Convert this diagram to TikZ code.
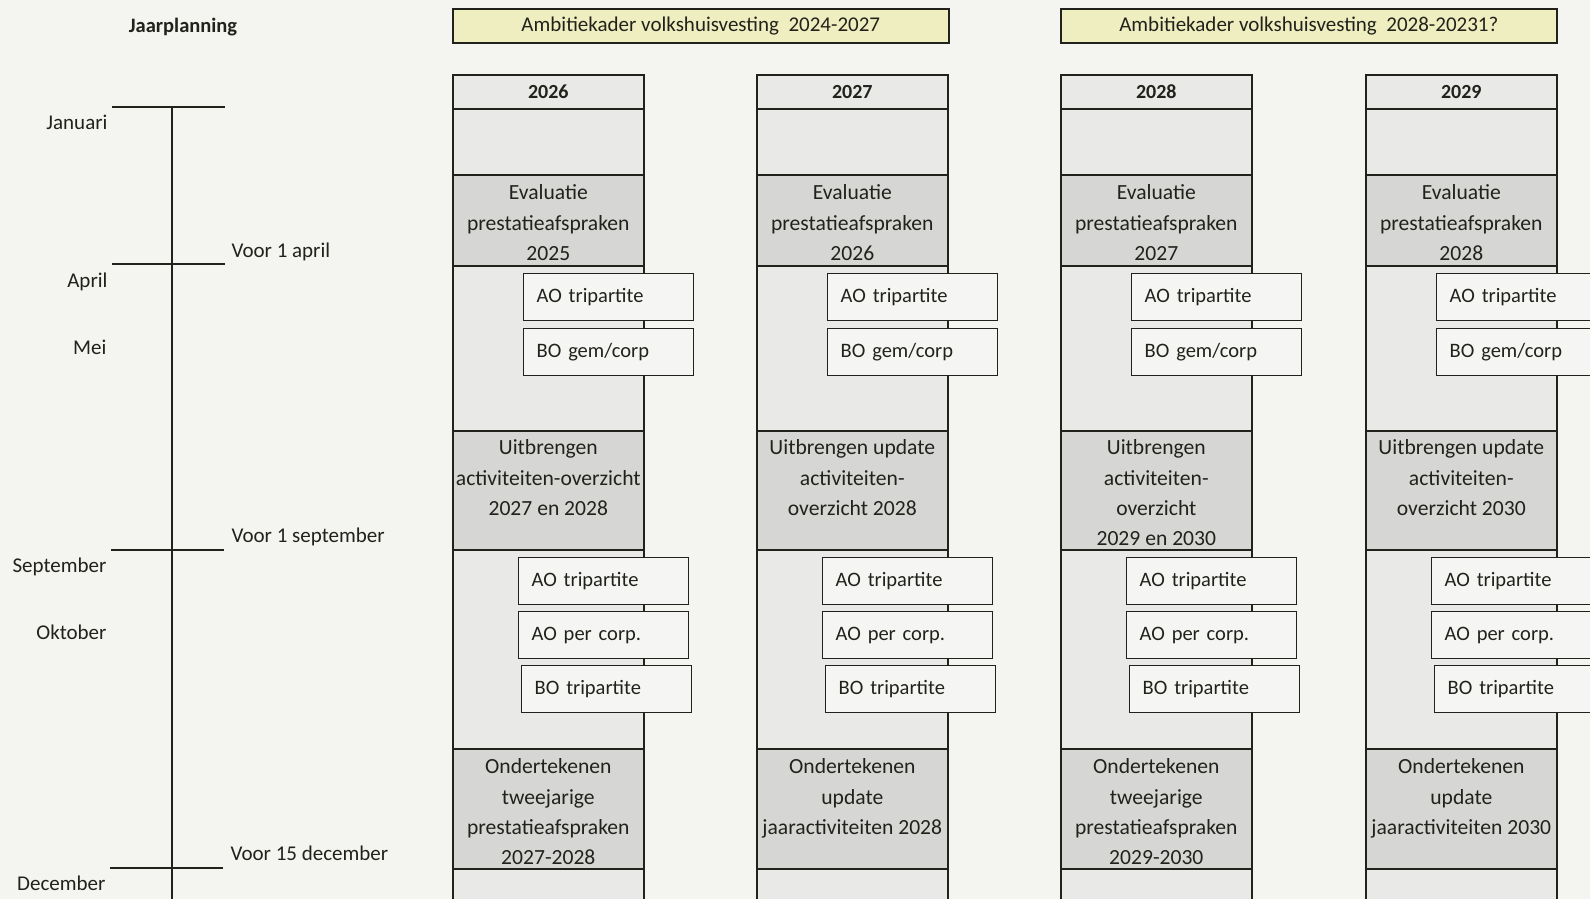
\documentclass[tikz,border=0pt]{standalone}
\usepackage{fontspec}
\setmainfont{Carlito}
\definecolor{papier}{RGB}{244,244,241}
\definecolor{licht}{RGB}{233,233,231}
\definecolor{donker}{RGB}{214,214,212}
\definecolor{wit}{RGB}{245,245,243}
\definecolor{geel}{RGB}{238,238,192}
\definecolor{inkt}{RGB}{34,34,28}
\begin{document}
\begin{tikzpicture}[x=1pt,y=-1pt,
    every node/.style={font=\fontsize{21}{30.4}\selectfont,text=inkt},
    lijn/.style={line width=1.5pt,draw=inkt},
    cel/.style={draw=inkt,line width=1.6pt,anchor=north west,minimum width=191pt,inner sep=0pt},
    lichtcel/.style={cel,fill=licht},
    donkercel/.style={cel,fill=donker},
    celtekst/.style={anchor=north,align=center,inner sep=0pt,font=\fontsize{21.6}{30.4}\selectfont},
    klein/.style={draw=inkt,line width=1.4pt,fill=wit,anchor=north west,minimum width=170pt,
      minimum height=47pt,text width=144pt,inner xsep=13pt,align=left,font=\fontsize{20.5}{24}\selectfont},
    kader/.style={draw=inkt,line width=1.6pt,fill=geel,anchor=north west,minimum width=496pt,
      minimum height=34pt,inner sep=0pt},
    maand/.style={anchor=base east},
    datum/.style={anchor=base west}]
  \useasboundingbox (0,0) rectangle (1590,899);
  \clip (0,0) rectangle (1590,899);
  \fill[papier] (0,0) rectangle (1590,899);

  \node[font=\fontsize{20.5}{24}\selectfont\bfseries] (titel) at (183,27) {Jaarplanning};

  \draw[lijn] (172,107) -- (172,905);
  \foreach \y/\a/\b in {107/112/225,264/112/225,550/111/224,868/110/223}
    \draw[lijn] (\a,\y) -- (\b,\y);
  \node[maand] (jan) at (111,129) {Januari};
  \node[maand] (apr) at (111,287) {April};
  \node[maand] (mei) at (110,354) {Mei};
  \node[maand] (sep) at (110,572) {September};
  \node[maand] (okt) at (110,639) {Oktober};
  \node[maand] (dec) at (109,890) {December};
  \node[datum] (v1apr) at (228,257) {Voor 1 april};
  \node[datum] (v1sep) at (228,542) {Voor 1 september};
  \node[datum] (v15dec) at (227,860) {Voor 15 december};

  \node[kader] (kader1) at (452,8) {Ambitiekader volkshuisvesting\ \ 2024-2027};
  \node[kader] (kader2) at (1060,8) {Ambitiekader volkshuisvesting\ \ 2028-20231?};

  \foreach \x/\jaar/\ev/\uit/\ond [count=\i] in
    {452/2026/2025/{Uitbrengen\\activiteiten-overzicht\\2027 en 2028}/{Ondertekenen\\tweejarige\\prestatieafspraken\\2027-2028},
     756/2027/2026/{Uitbrengen update\\activiteiten-\\overzicht 2028}/{Ondertekenen\\update\\jaaractiviteiten 2028},
     1060/2028/2027/{Uitbrengen\\activiteiten-\\overzicht\\2029 en 2030}/{Ondertekenen\\tweejarige\\prestatieafspraken\\2029-2030},
     1365/2029/2028/{Uitbrengen update\\activiteiten-\\overzicht 2030}/{Ondertekenen\\update\\jaaractiviteiten 2030}}
  {
    \node[lichtcel,minimum height=840pt] (kol\i) at (\x,74) {};
    \node[lichtcel,minimum height=34pt,font=\fontsize{20}{24}\selectfont\bfseries] (jaar\i) at (\x,74) {\jaar};
    \node[donkercel,minimum height=91pt] (eval\i) at (\x,174) {};
    \node[celtekst] at ([yshift=-10.5pt]eval\i.north) {Evaluatie\\prestatieafspraken\\\ev};
    \node[donkercel,minimum height=119pt] (uit\i) at (\x,430) {};
    \node[celtekst] at ([yshift=-9.5pt]uit\i.north) {\uit};
    \node[donkercel,minimum height=120pt] (ond\i) at (\x,748) {};
    \node[celtekst] at ([yshift=-10.5pt]ond\i.north) {\ond};
    \node[klein] (aotri\i) at (\x+71,273) {AO tripartite};
    \node[klein] (bogem\i) at (\x+71,328) {BO gem/corp};
    \node[klein] (aotrib\i) at (\x+66,557) {AO tripartite};
    \node[klein] (aocorp\i) at (\x+66,611) {AO per corp.};
    \node[klein] (botri\i) at (\x+69,665) {BO tripartite};
  }
\end{tikzpicture}
\end{document}
